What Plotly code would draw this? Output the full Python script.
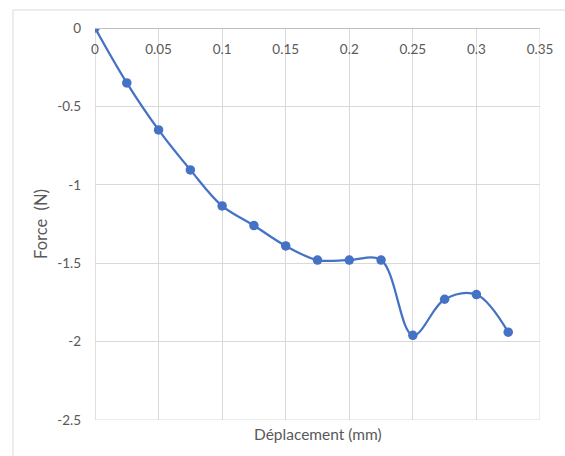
import plotly.graph_objects as go

deplacement = [0, 0.025, 0.05, 0.075, 0.1, 0.125, 0.15, 0.175, 0.2, 0.225, 0.25, 0.275, 0.3, 0.325]
force = [0, -0.35, -0.65, -0.905, -1.135, -1.26, -1.39, -1.48, -1.48, -1.48, -1.96, -1.73, -1.70, -1.94]

x_ticks = [0, 0.05, 0.1, 0.15, 0.2, 0.25, 0.3, 0.35]
x_labels = ["0", "0.05", "0.1", "0.15", "0.2", "0.25", "0.3", "0.35"]
y_ticks = [0, -0.5, -1, -1.5, -2, -2.5]
y_labels = ["0", "-0.5", "-1", "-1.5", "-2", "-2.5"]

blue = "#4472C4"
grey_txt = "#595959"
grid = "#D9D9D9"
axis_line = "#BFBFBF"

fig = go.Figure()
fig.add_trace(go.Scatter(
    x=deplacement, y=force, mode="lines+markers",
    line=dict(color=blue, width=2.25, shape="spline", smoothing=1.0),
    marker=dict(color=blue, size=9.5),
    showlegend=False,
))

fig.update_layout(
    width=565, height=456,
    margin=dict(l=95, r=20, t=28, b=36),
    paper_bgcolor="white", plot_bgcolor="white",
    font=dict(family="Lato", size=13, color=grey_txt),
    xaxis=dict(
        range=[0, 0.35], tickvals=x_ticks, ticktext=x_labels,
        anchor="free", position=1, side="bottom", ticklabelstandoff=9,
        showgrid=True, gridcolor=grid, gridwidth=1,
        showline=True, linecolor=axis_line, linewidth=1,
        zeroline=False, ticks="", tickfont=dict(size=13.5, color=grey_txt),
    ),
    yaxis=dict(
        range=[-2.5, 0], tickvals=y_ticks, ticktext=y_labels,
        showgrid=True, gridcolor=grid, gridwidth=1,
        zeroline=False, ticks="", ticklabelstandoff=13,
        tickfont=dict(size=13.5, color=grey_txt),
        title=dict(text="Force  (N)", font=dict(size=16.5, color=grey_txt), standoff=5),
    ),
    annotations=[dict(
        text="Déplacement (mm)", xref="paper", yref="paper", x=0.5, y=0,
        yanchor="middle", yshift=-14, showarrow=False, font=dict(size=15.5, color=grey_txt),
    )],
    shapes=[
        dict(type="rect", xref="paper", yref="paper", x0=-0.1844, y0=-0.3, x1=1.3, y1=1.0459,
             line=dict(color=grid, width=1), fillcolor="rgba(0,0,0,0)", layer="below"),
        dict(type="line", xref="x", yref="paper", x0=x_ticks[0], x1=x_ticks[0], y0=0, y1=1,
             line=dict(color=axis_line, width=1), layer="below"),
        dict(type="line", xref="x", yref="paper", x0=x_ticks[-1], x1=x_ticks[-1], y0=0, y1=1,
             line=dict(color=grid, width=1), layer="below"),
        dict(type="line", xref="paper", yref="y", x0=0, x1=1, y0=y_ticks[-1], y1=y_ticks[-1],
             line=dict(color=grid, width=1), layer="below"),
    ],
)

fig.write_html(
    "out.html",
    config={"displayModeBar": False},
    post_script="document.body.style.margin='0';document.body.style.overflow='hidden';",
)
